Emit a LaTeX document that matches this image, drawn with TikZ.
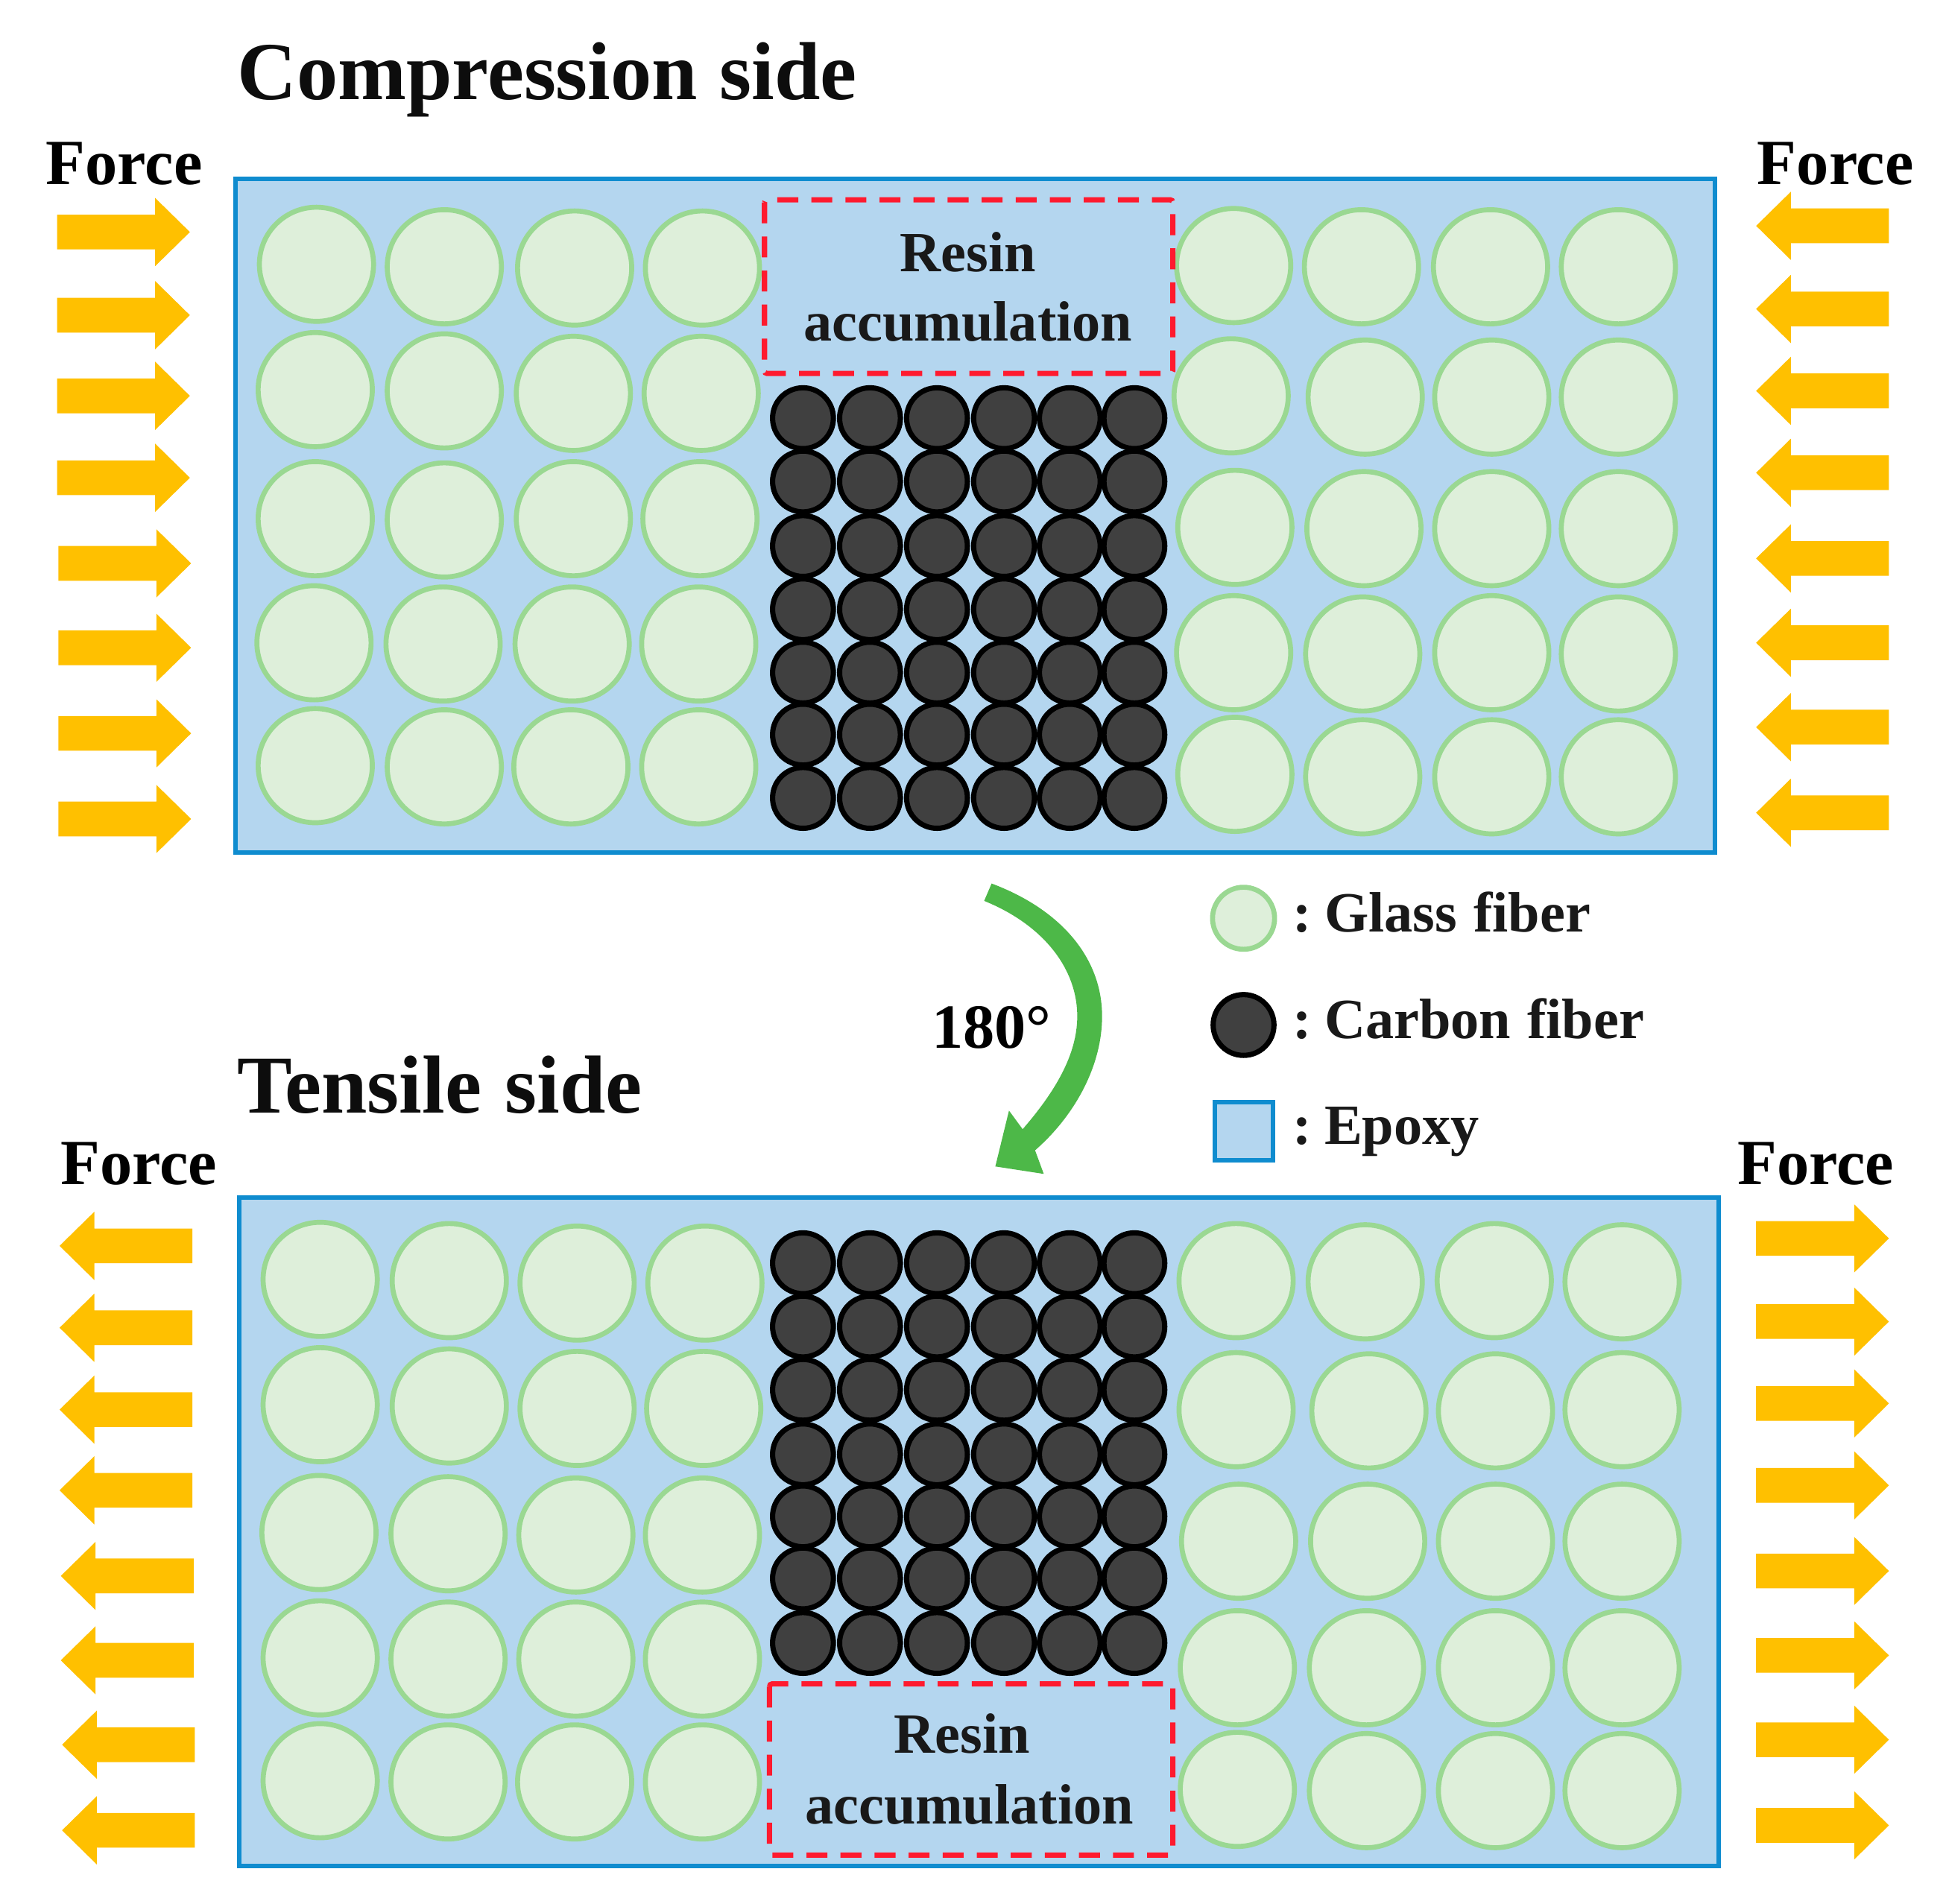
\documentclass[tikz,border=0pt]{standalone}
\usepackage{fontspec}
\setmainfont{Liberation Serif}
\definecolor{epoxy}{HTML}{B4D6EF}
\definecolor{epoxyline}{HTML}{0F8CCF}
\definecolor{glassfill}{HTML}{DEEFDA}
\definecolor{glassline}{HTML}{9AD892}
\definecolor{carbonfill}{HTML}{404040}
\definecolor{forcecol}{HTML}{FFC000}
\definecolor{turncol}{HTML}{4DB848}
\definecolor{resinred}{HTML}{FF1A2E}
\newcommand{\glassc}[2]{\path[glassstyle] (#1,#2) circle [radius=46];}
\newcommand{\carbonc}[2]{\path[carbonstyle] (#1,#2) circle [radius=24.5];}
\newcommand{\rarrow}[2]{\fill[forcecol] (#1,#2-14) -- ++(79,0) -- ++(0,-13.5) -- ++(28,27.5) -- ++(-28,27.5) -- ++(0,-13.5) -- ++(-79,0) -- cycle;}
\newcommand{\larrow}[2]{\fill[forcecol] (#1,#2-14) -- ++(-79,0) -- ++(0,-13.5) -- ++(-28,27.5) -- ++(28,27.5) -- ++(0,-13.5) -- ++(79,0) -- cycle;}
\tikzset{
  x=0.016652cm, y=-0.016652cm,
  epoxybox/.style={draw=epoxyline, fill=epoxy, line width=1.7pt},
  glassstyle/.style={draw=glassline, fill=glassfill, line width=1.9pt},
  carbonstyle/.style={draw=black, fill=carbonfill, line width=2pt},
  resinbox/.style={draw=resinred, line width=2pt, dash pattern=on 8pt off 5pt, rounded corners=1pt},
  title/.style={font=\fontsize{31.4}{34}\selectfont\bfseries, inner sep=0pt, anchor=west, text=black!95},
  forcelab/.style={font=\fontsize{24.6}{28}\selectfont\bfseries, inner sep=0pt},
  resinlab/.style={font=\fontsize{21.7}{25}\selectfont\bfseries, inner sep=0pt, text=black!90},
  legendlab/.style={font=\fontsize{21.7}{25}\selectfont\bfseries, inner sep=0pt, anchor=west, text=black!90, execute at begin node={\spaceskip=0.29em}},
}
\begin{document}
\begin{tikzpicture}
\useasboundingbox (0,0) rectangle (1568,1534);
\fill[white] (0,0) rectangle (1568,1534);

% Top panel
\path[epoxybox] (190,144) rectangle (1382,687);
\foreach \x/\y in {255/213,358/215,463/216,566/216,254/314,358/315,462/317,565/317,254/418,358/419,462/418,564/418,253/518,357/519,461/519,563/519,254/617,358/618,460/618,563/618,
  994/214,1097/215,1201/215,1304/215,992/319,1100/320,1202/320,1304/320,995/425,1099/426,1202/426,1304/426,994/526,1098/527,1202/526,1304/527,995/624,1098/626,1202/626,1304/626}
  {\glassc{\x}{\y}}
\foreach \x in {647,701,755,809,862,914}
  \foreach \y in {337,388,440,491,542,592,643}
    {\carbonc{\x}{\y}}
\path[resinbox] (616,161) rectangle (945,301);
\node[resinlab] (resinA) at (780,203) {Resin};
\node[resinlab] (accumA) at (780,259) {accumulation};
\node[title] (compression) at (191,64) {Compression\hspace{0.02em} side};
\node[forcelab] (forceTL) at (100,132) {Force};
\node[forcelab] (forceTR) at (1479,132) {Force};
\foreach \y/\x in {187/46,254/46,319/46,385/46,454/47,522/47,591/47,660/47}
  {\rarrow{\x}{\y}}
\foreach \y in {182,249,315,381,450,518,586,655}
  {\larrow{1522}{\y}}

% Middle
\fill[turncol] (799,712) .. controls (855,733) and (888,772) .. (888,819)
  .. controls (888,860) and (865,900) .. (834,927)
  -- (841,946) -- (802,940) -- (813,895) -- (824,910)
  .. controls (850,880) and (868,850) .. (868,819)
  .. controls (868,780) and (840,745) .. (793,726) -- cycle;
\node[font=\fontsize{24}{28}\selectfont\bfseries, inner sep=0pt] (angle) at (799,828) {180°};
\path[glassstyle] (1002,740) circle [radius=25];
\path[carbonstyle] (1002,826) circle [radius=24.5];
\path[epoxybox] (979,888) rectangle (1026,935);
\node[legendlab] (lglass) at (1041,735) {:\hspace{0.23em}Glass fiber};
\node[legendlab] (lcarbon) at (1041,821) {:\hspace{0.23em}Carbon fiber};
\node[legendlab] (lepoxy) at (1041,912) {:\hspace{0.23em}Epoxy};
\node[title] (tensile) at (191,874) {Tensile\hspace{0.04em} side};

% Bottom panel
\path[epoxybox] (193,965) rectangle (1385,1504);
\foreach \x/\y in {258/1031,362/1032,465/1034,568/1034,258/1132,362/1133,465/1135,567/1135,257/1235,361/1236,464/1237,566/1237,258/1336,361/1337,464/1337,566/1337,258/1435,361/1436,463/1436,566/1436,
  996/1032,1100/1033,1204/1032,1307/1033,996/1136,1103/1137,1205/1137,1307/1136,998/1242,1102/1242,1205/1242,1307/1242,997/1344,1101/1344,1205/1344,1307/1344,997/1442,1101/1443,1205/1443,1307/1443}
  {\glassc{\x}{\y}}
\foreach \x in {647,701,755,809,862,914}
  \foreach \y in {1018,1069,1120,1172,1222,1272,1324}
    {\carbonc{\x}{\y}}
\path[resinbox] (620,1357) rectangle (945,1495);
\node[resinlab] (resinB) at (775,1397) {Resin};
\node[resinlab] (accumB) at (781,1454) {accumulation};
\node[forcelab] (forceBL) at (112,938) {Force};
\node[forcelab] (forceBR) at (1463,938) {Force};
\foreach \y/\x in {1004/155,1070/155,1136/155,1201/155,1270/156,1338/156,1406/157,1475/157}
  {\larrow{\x}{\y}}
\foreach \y in {998,1065,1131,1197,1266,1334,1402,1471}
  {\rarrow{1415}{\y}}
\end{tikzpicture}
\end{document}
